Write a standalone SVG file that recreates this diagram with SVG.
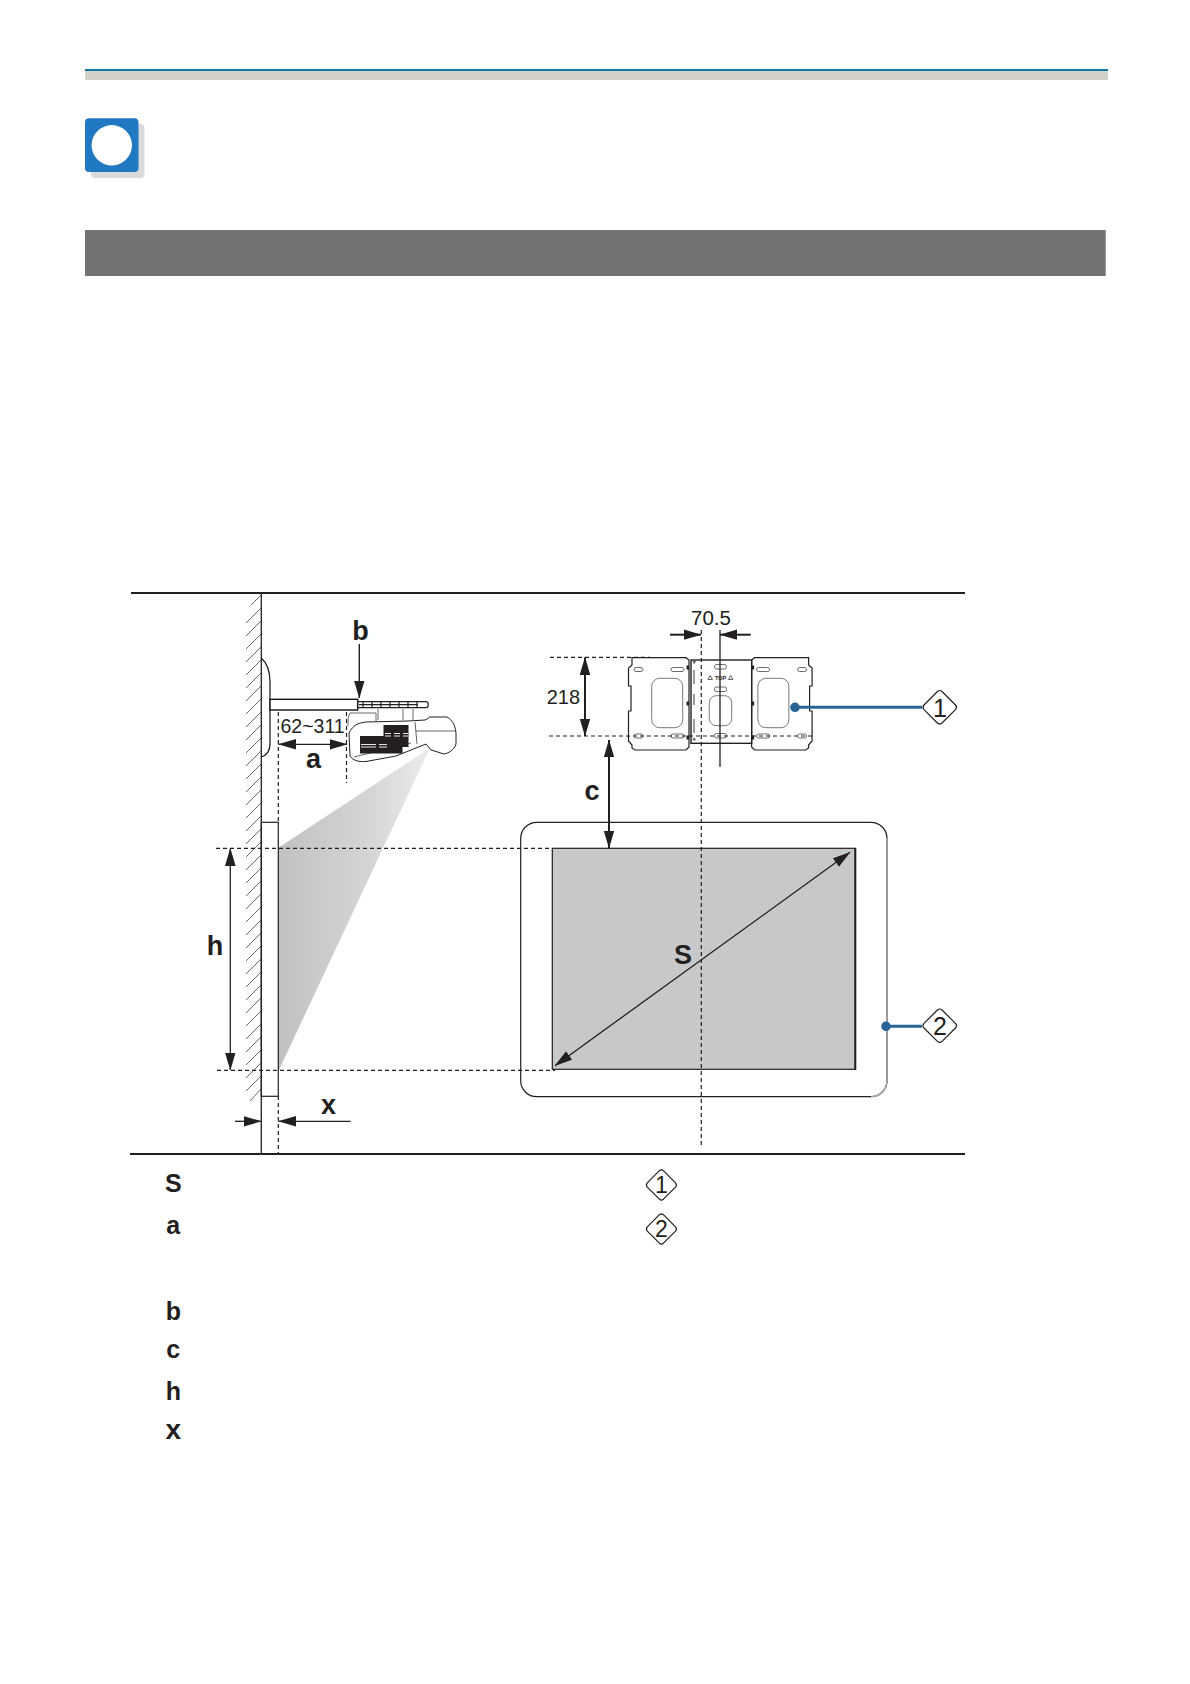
<svg xmlns="http://www.w3.org/2000/svg" xmlns:xlink="http://www.w3.org/1999/xlink" width="1190" height="1684" viewBox="0 0 1190 1684">
<style>
.ln{fill:none;stroke:#231f20;stroke-width:1.3}
.dash{fill:none;stroke:#231f20;stroke-width:1.2;stroke-dasharray:4 3}
.thick{fill:none;stroke:#231f20;stroke-width:2}
.pl{fill:#fff;stroke:#231f20;stroke-width:1.2}
.slot{fill:#fff;stroke:#58595b;stroke-width:.9}
.win{fill:#fff;stroke:#77787b;stroke-width:1}
.lead{fill:none;stroke:#2a6496;stroke-width:3}
.dot{fill:#2a6496}
.dia{fill:#fff;stroke:#231f20;stroke-width:1.2;stroke-linejoin:round}
text{font-family:"Liberation Sans",Arial,sans-serif;fill:#231f20}
.b{font-weight:700;font-size:27px;text-anchor:middle}
.k{font-weight:700;font-size:25px;text-anchor:middle}
.n{font-size:20px}
.d{font-size:25px;text-anchor:middle}
.dl{font-size:23px;text-anchor:middle}
</style>
<defs>
<marker id="ah" markerUnits="userSpaceOnUse" markerWidth="18" markerHeight="12" viewBox="0 0 17 10" refX="16.5" refY="5" orient="auto-start-reverse"><path d="M0 0L17 5L0 10Z" fill="#231f20"/></marker>
<linearGradient id="beam" gradientUnits="userSpaceOnUse" x1="278" y1="0" x2="430" y2="0"><stop offset="0" stop-color="#bfc1c3"/><stop offset=".6" stop-color="#d3d5d6"/><stop offset="1" stop-color="#eceded"/></linearGradient>
<g id="plate">
<path class="pl" d="M632 657.7L686 657.7L689 660L689 747L686 750L635 750L632 748L632 745L628.5 741L628.5 711L631 711L631 686L628.5 686L628.5 668L632 665Z"/>
<rect class="win" x="651.7" y="678.3" width="31" height="49.4" rx="8"/>
<rect class="slot" x="634" y="667.5" width="9" height="4" rx="2"/>
<rect class="slot" x="671" y="667.5" width="13" height="4" rx="2"/>
<rect class="slot" x="634" y="734" width="9" height="4" rx="2"/>
<rect class="slot" x="671" y="734" width="13" height="4" rx="2"/>
<rect x="686.5" y="665.5" width="2.5" height="4" fill="#231f20"/>
<rect x="686.5" y="701.5" width="2.5" height="4" fill="#231f20"/>
<rect x="686.5" y="735.5" width="2.5" height="4" fill="#231f20"/>
</g>
</defs>

<g id="page-header">
<rect x="85" y="71" width="1023" height="9" fill="#d2d0c6"/>
<rect x="85" y="69" width="1023" height="2" fill="#1478a0"/>
<rect x="91" y="124" width="53.5" height="54" rx="4" fill="#d9dadc"/>
<rect x="85" y="118.3" width="53.5" height="53.7" rx="4" fill="#1f78c1"/>
<circle cx="111.8" cy="145.3" r="20.2" fill="#fff"/>
<rect x="85" y="230" width="1020.7" height="46" fill="#737373"/>
</g>

<g id="frame">
<path class="thick" d="M131 593H965"/>
<path class="thick" d="M130 1154H965"/>
</g>

<g id="beam-shape"><polygon points="278,848 430,748 278,1072" fill="url(#beam)"/></g>

<g id="wall">
<path fill="none" stroke="#58595b" stroke-width=".9" d="M261 595l-10 10M261 608l-15 15M261 621l-15 15M261 634l-15 15M261 647l-15 15M261 660l-15 15M261 673l-15 15M261 686l-15 15M261 699l-15 15M261 712l-15 15M261 725l-15 15M261 738l-15 15M261 751l-15 15M261 764l-15 15M261 777l-15 15M261 790l-15 15M261 803l-15 15M261 816l-15 15M261 829l-15 15M261 842l-15 15M261 855l-15 15M261 868l-15 15M261 881l-15 15M261 894l-15 15M261 907l-15 15M261 920l-15 15M261 933l-15 15M261 946l-15 15M261 959l-15 15M261 972l-15 15M261 985l-15 15M261 998l-15 15M261 1011l-15 15M261 1024l-15 15M261 1037l-15 15M261 1050l-15 15M261 1063l-15 15M261 1076l-15 15M261 1089l-11 12"/>
<path class="ln" d="M261.3 593V1154"/>
</g>

<g id="wall-plate">
<path class="ln" d="M261.3 658C268 664 270 672 270 682V744C270 750 267 755 261.3 757"/>
<rect x="270" y="699.3" width="87.7" height="10.7" fill="#fff" stroke="#231f20" stroke-width="1.5"/>
<path class="thick" style="stroke-width:1.2" d="M357.7 701.7H426C429 701.7 429 707.7 426 707.7H357.7M359 704.7H418M363 702v5M372 702v5M381 702v5M390 702v5M399 702v5M408 702v5M417 702v5"/>
</g>

<g id="projector">
<path class="ln" style="stroke-width:.9;stroke:#58595b" d="M350 713H376V721M378 709V720M403 709V720M413 709V720M350 713C348 716 348 720 348 726"/>
<path fill="#fff" stroke="#231f20" stroke-width="1" d="M349 733C353 725 358 723 366 722L408 721L425 720C428 719 429 717 430 717L447 717C452 720 455 724 456 733L456 744C454 750 449 753 444 754L431 750L426 744L411 750L396 756L366 761.5C360 762 353 761 350 756Z"/>
<path fill="none" stroke="#231f20" stroke-width=".7" d="M416 731H455M415 722L417 744M354 757L411 743"/>
<rect x="360" y="736" width="42.5" height="17.5" fill="#231f20"/>
<rect x="383.5" y="725" width="25" height="22" fill="#231f20"/>
<path fill="none" stroke="#fff" stroke-width=".9" d="M361 744.5H376M379 744.5H387M361 747H376M379 747H387M385 733.5H391M394 733.5H400M403 733.5H408M385 736H391M394 736H400M403 736H408"/>
</g>

<g id="mount-bracket">
<use xlink:href="#plate" href="#plate"/>
<use xlink:href="#plate" href="#plate" transform="translate(1440.6 0) scale(-1 1)"/>
<rect class="pl" style="stroke-width:1.4" x="691" y="660" width="60.7" height="83.3"/>
<rect class="win" x="709.3" y="695.7" width="22.4" height="30" rx="7"/>
<rect class="slot" x="714.5" y="664.5" width="12" height="4.5" rx="2"/>
<rect class="slot" x="714.5" y="687" width="12" height="4.5" rx="2"/>
<rect class="slot" x="714.5" y="733.5" width="12" height="4.5" rx="2"/>
<path fill="none" stroke="#231f20" stroke-width=".9" d="M694 670V684M694 694V705M694 719V733"/>
<path fill="none" stroke="#231f20" stroke-width=".7" d="M708 679.5l2.2 -4 2.2 4zM728.5 679.5l2.2 -4 2.2 4zM693 661.5l1.2 2.2 1.2 -2.2zM693 740l1.2 -2.2 1.2 2.2z"/>
<text x="720.5" y="679.5" font-size="5.5" font-weight="700" text-anchor="middle">TOP</text>
</g>

<g id="screen">
<rect x="520.7" y="822.3" width="366.3" height="274.4" rx="16" fill="none" stroke="#231f20" stroke-width="1.2"/>
<path fill="none" stroke="#a7a9ac" stroke-width="1.4" d="M887 838V1080C887 1089 880 1096.7 871 1096.7"/>
<rect x="552.3" y="848.3" width="303" height="221" fill="#c6c8ca" stroke="#231f20" stroke-width="1.2"/>
<path d="M855.3 848V1070" fill="none" stroke="#231f20" stroke-width="2"/>
</g>

<g id="screen-board">
<rect x="261.3" y="822.3" width="17" height="274" fill="none" stroke="#231f20" stroke-width="1.2"/>
</g>

<g id="connectors">
<path class="dash" d="M216 848.3H552M217 1070.3H555"/>
<path class="dash" d="M278.3 712V822M278.3 1096V1153"/>
<path class="dash" d="M346.5 712V783"/>
<path class="dash" d="M550 657.3H650M549 736H813"/>
<path class="dash" d="M701.3 630V1147"/>
<path class="ln" d="M720 630V767"/>
<line class="ln" x1="230.3" y1="848.5" x2="230.3" y2="1070" marker-start="url(#ah)" marker-end="url(#ah)"/>
<line class="ln" x1="235" y1="1121.3" x2="261" y2="1121.3" marker-end="url(#ah)"/>
<line class="ln" x1="350.7" y1="1121.3" x2="278.5" y2="1121.3" marker-end="url(#ah)"/>
<line class="ln" x1="278.5" y1="744.3" x2="347" y2="744.3" marker-start="url(#ah)" marker-end="url(#ah)"/>
<line class="thick" style="stroke-width:1.4" x1="359.3" y1="644" x2="359.3" y2="698" marker-end="url(#ah)"/>
<line class="thick" x1="585" y1="657.5" x2="585" y2="736" marker-start="url(#ah)" marker-end="url(#ah)"/>
<line class="thick" x1="670" y1="634.7" x2="701" y2="634.7" marker-end="url(#ah)"/>
<line class="thick" x1="750.7" y1="634.7" x2="720" y2="634.7" marker-end="url(#ah)"/>
<line class="thick" x1="609" y1="740" x2="609" y2="848" marker-start="url(#ah)" marker-end="url(#ah)"/>
<line class="ln" x1="555" y1="1065.7" x2="850" y2="852.3" marker-start="url(#ah)" marker-end="url(#ah)"/>
<line class="lead" x1="795" y1="707.3" x2="922" y2="707.3"/>
<line class="lead" x1="886" y1="1026.3" x2="922" y2="1026.3"/>
<circle class="dot" cx="795" cy="707.3" r="4.8"/>
<circle class="dot" cx="886" cy="1026.3" r="4.8"/>
</g>

<g id="dimension-labels">
<text class="b" x="360.5" y="640">b</text>
<text class="n" x="280.5" y="733.3" style="font-size:19.5px">62~311</text>
<text class="b" x="313.5" y="767.7">a</text>
<text class="b" x="215" y="955">h</text>
<text class="b" x="328.5" y="1114">x</text>
<text class="n" x="546.7" y="704">218</text>
<text class="n" x="691" y="625" style="font-size:20.5px">70.5</text>
<text class="b" x="592" y="799.5">c</text>
<text class="b" x="683" y="964">S</text>
</g>

<g id="callout-1">
<path class="dia" d="M942 691.5L955.5 705Q957.5 707.3 955.5 709.6L942 723Q939.7 725 937.4 723L924 709.6Q922 707.3 924 705L937.4 691.5Q939.7 689.5 942 691.5Z"/>
<text class="d" x="940" y="716.5">1</text>
</g>
<g id="callout-2">
<path class="dia" d="M942 1010L955.5 1023.4Q957.5 1025.7 955.5 1028L942 1041.4Q939.7 1043.4 937.4 1041.4L924 1028Q922 1025.7 924 1023.4L937.4 1010Q939.7 1008 942 1010Z"/>
<text class="d" x="940" y="1034.5">2</text>
</g>

<g id="legend">
<text class="k" x="173.3" y="1192">S</text>
<text class="k" x="173.3" y="1233.5">a</text>
<text class="k" x="173.3" y="1320">b</text>
<text class="k" x="173.3" y="1358">c</text>
<text class="k" x="173.3" y="1400">h</text>
<text class="k" x="173.3" y="1439" style="font-size:28px">x</text>
</g>
<g id="legend-1">
<path class="dia" d="M663.4 1170.7L675.5 1182.9Q677.3 1185 675.5 1187.1L663.4 1199.2Q661.4 1201 659.4 1199.2L647.3 1187.1Q645.5 1185 647.3 1182.9L659.4 1170.7Q661.4 1168.9 663.4 1170.7Z"/>
<text class="dl" x="661.5" y="1193.2">1</text>
</g>
<g id="legend-2">
<path class="dia" d="M663.4 1214.7L675.5 1226.9Q677.3 1229 675.5 1231.1L663.4 1243.2Q661.4 1245 659.4 1243.2L647.3 1231.1Q645.5 1229 647.3 1226.9L659.4 1214.7Q661.4 1212.9 663.4 1214.7Z"/>
<text class="dl" x="661.5" y="1237.2">2</text>
</g>
</svg>
